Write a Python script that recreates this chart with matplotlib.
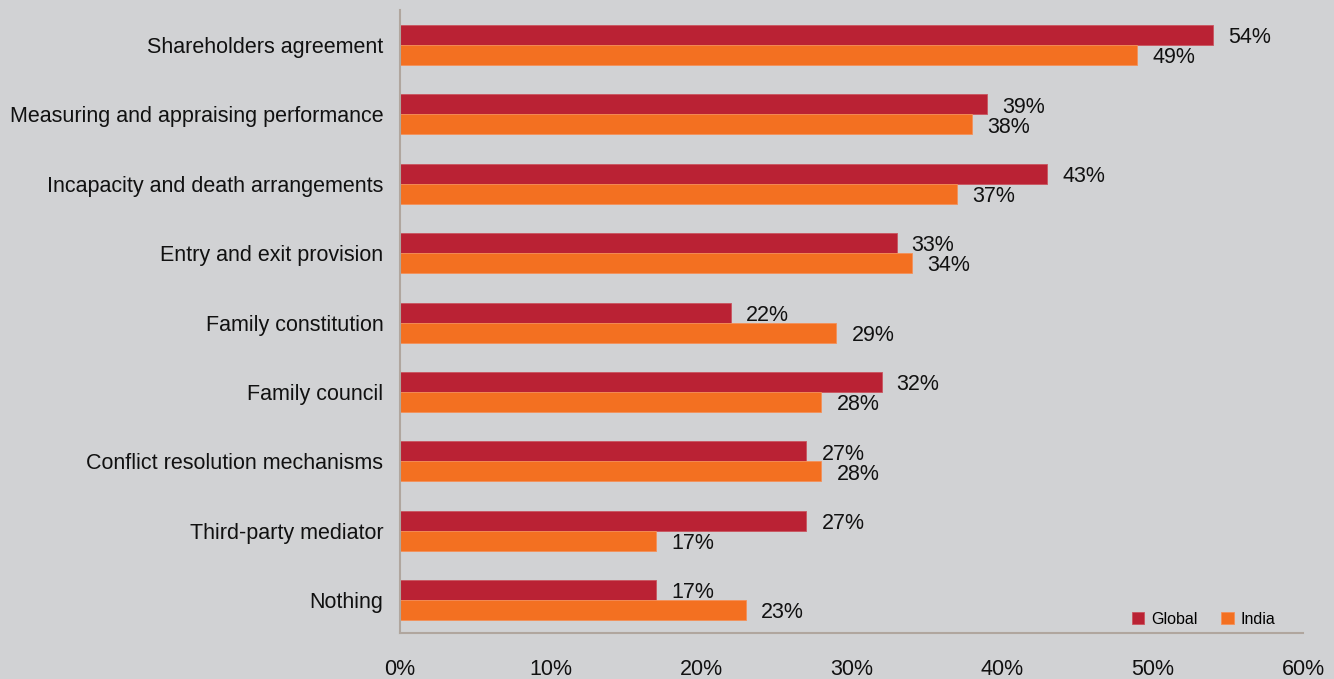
import numpy as np
import matplotlib
matplotlib.use('Agg')
import matplotlib.pyplot as plt

plt.rcParams['font.family'] = ['Liberation Sans', 'DejaVu Sans']

categories = ['Shareholders agreement', 'Measuring and appraising performance',
              'Incapacity and death arrangements', 'Entry and exit provision',
              'Family constitution', 'Family council',
              'Conflict resolution mechanisms', 'Third-party mediator', 'Nothing']
global_vals = [54, 39, 43, 33, 22, 32, 27, 27, 17]
india_vals = [49, 38, 37, 34, 29, 28, 28, 17, 23]
xticks = [0, 10, 20, 30, 40, 50, 60]

bg = '#D1D2D4'
red = '#BA2234'
orange = '#F37021'
axis_col = '#B0A69E'

fig = plt.figure(figsize=(13.34, 6.79), dpi=100)
fig.patch.set_facecolor(bg)
ax = fig.add_axes([400 / 1334, 46 / 679, 903 / 1334, 623 / 679])
ax.set_facecolor(bg)

y = np.arange(len(categories))
h = 0.288
ax.barh(y - h / 2, global_vals, height=h, color=red, edgecolor='#C9545F', linewidth=0.6, label='Global')
ax.barh(y + h / 2, india_vals, height=h, color=orange, edgecolor='#F59058', linewidth=0.6, label='India')

fs = 15.5
for i, (g, n) in enumerate(zip(global_vals, india_vals)):
    ax.text(g + 1.0, i - h / 2 + 0.04, f'{g}%', va='center', ha='left', fontsize=fs, color='#111111')
    ax.text(n + 1.0, i + h / 2 + 0.04, f'{n}%', va='center', ha='left', fontsize=fs, color='#111111')

ax.set_ylim(len(categories) - 1 + 0.475, -0.505)
ax.set_xlim(0, 60)
ax.set_yticks(y)
ax.set_yticklabels(categories, fontsize=fs, color='#111111')
ax.set_xticks(xticks)
ax.set_xticklabels([f'{t}%' for t in xticks], fontsize=fs, color='#111111')
ax.tick_params(axis='both', length=0)
ax.tick_params(axis='y', pad=12)
ax.tick_params(axis='x', pad=19)

for s in ['top', 'right']:
    ax.spines[s].set_visible(False)
ax.spines['left'].set_color(axis_col)
ax.spines['bottom'].set_color(axis_col)
ax.spines['left'].set_linewidth(1.5)
ax.spines['bottom'].set_linewidth(1.5)

ax.legend(loc='lower right', ncol=2, frameon=False, fontsize=11.5, handlelength=0.8,
          handleheight=0.8, handletextpad=0.4, columnspacing=1.5,
          bbox_to_anchor=(0.985, -0.013))

fig.savefig('out.png', dpi=100, facecolor=bg)
